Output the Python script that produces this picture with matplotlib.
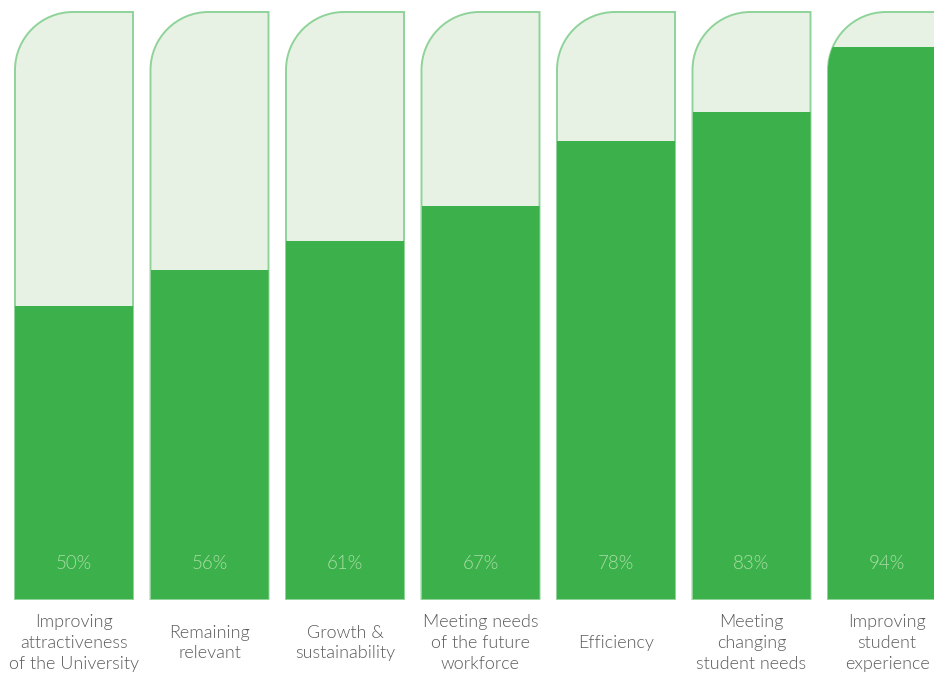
import matplotlib.pyplot as plt
from matplotlib.path import Path
from matplotlib.patches import PathPatch, Rectangle

# data
labels = ["Improving\nattractiveness\nof the University",
          "Remaining\nrelevant",
          "Growth &\nsustainability",
          "Meeting needs\nof the future\nworkforce",
          "Efficiency",
          "Meeting\nchanging\nstudent needs",
          "Improving\nstudent\nexperience"]
values = [50, 56, 61, 67, 78, 83, 94]

# colours
fill_green = "#3cb14b"
back_green = "#e8f2e4"
edge_green = "#8fd39a"
pct_color = "#a9dda5"
text_color = "#5b5b5b"

W, H = 934, 675
fig = plt.figure(figsize=(W / 100, H / 100), dpi=100)

# axes placed so that 0..100 % maps onto the bar height in pixels
bar_bottom_px, bar_top_px = 599, 12
step_px, first_center_px, bar_w_px, rad_px = 135.5, 74, 118, 58
ax = fig.add_axes([0, (H - bar_bottom_px) / H, 1, (bar_bottom_px - bar_top_px) / H])
ax.set_xlim(-first_center_px / step_px, (W - first_center_px) / step_px)
ax.set_ylim(0, 100)
ax.axis("off")

bw = bar_w_px / step_px
rx = rad_px / step_px
ry = rad_px / (bar_bottom_px - bar_top_px) * 100
k = 0.5523


def rounded_bar(x0):
    # only the top-left corner is rounded
    x1 = x0 + bw
    verts = [(x0, 0), (x0, 100 - ry),
             (x0, 100 - ry + k * ry), (x0 + rx - k * rx, 100), (x0 + rx, 100),
             (x1, 100), (x1, 0), (x0, 0)]
    codes = [Path.MOVETO, Path.LINETO,
             Path.CURVE4, Path.CURVE4, Path.CURVE4,
             Path.LINETO, Path.LINETO, Path.CLOSEPOLY]
    return Path(verts, codes)


for i, (lab, v) in enumerate(zip(labels, values)):
    x0 = i - bw / 2
    shape = PathPatch(rounded_bar(x0), facecolor=back_green, edgecolor=edge_green,
                      lw=1.4, clip_on=False)
    ax.add_patch(shape)
    bar = Rectangle((x0, 0), bw, v, facecolor=fill_green, edgecolor="none")
    ax.add_patch(bar)
    bar.set_clip_path(shape)
    ax.text(i, 6.0, f"{v}%", ha="center", va="center", color=pct_color,
            fontsize=13.5, family="Lato", fontweight=300, zorder=5)
    ax.text(i, -7.5, lab, ha="center", va="center", color=text_color,
            fontsize=13, family="Lato", fontweight=300, linespacing=1.38,
            clip_on=False, zorder=5)

fig.savefig("out.png", dpi=100)
